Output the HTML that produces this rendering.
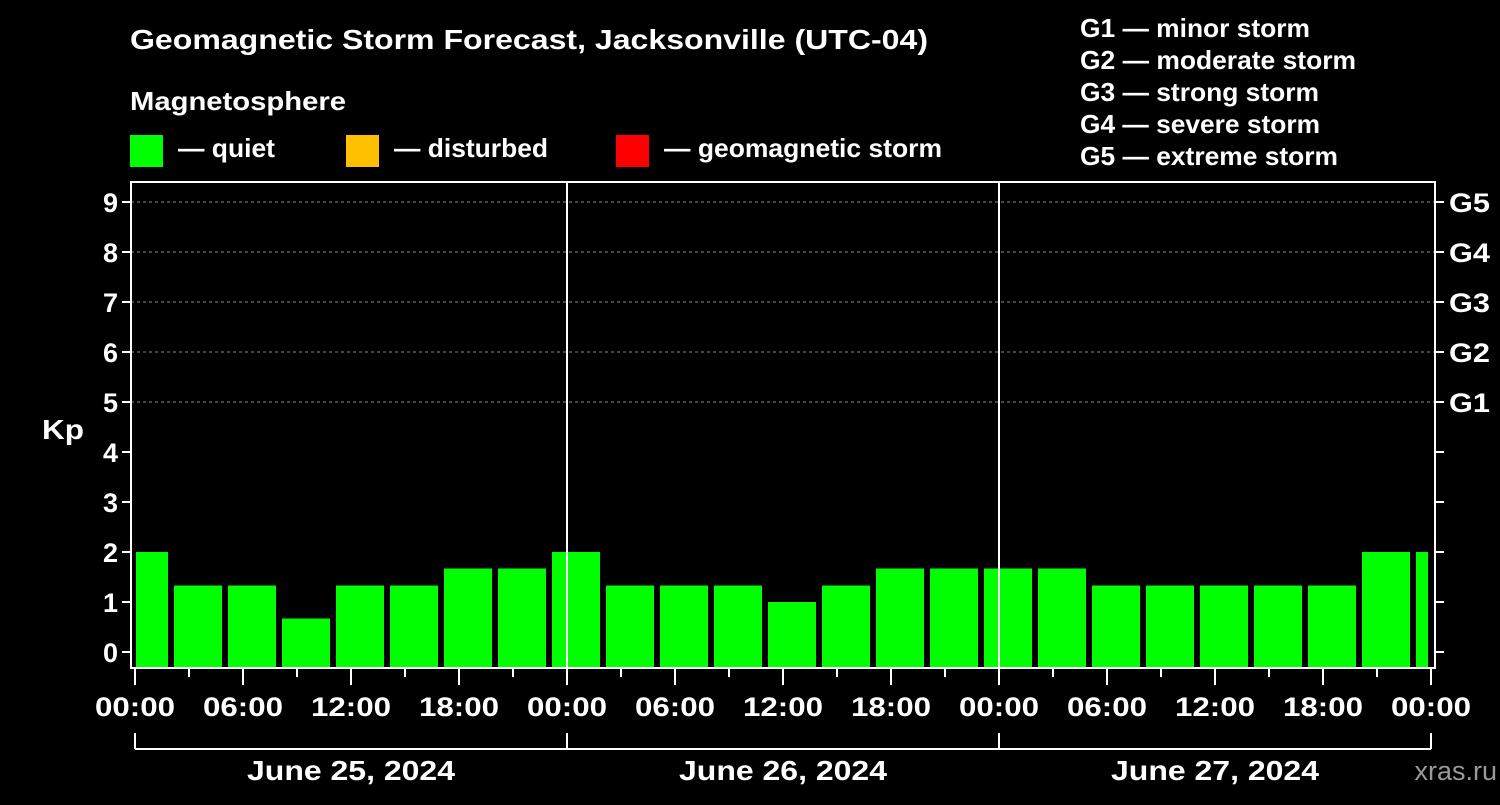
<!DOCTYPE html>
<html><head><meta charset="utf-8"><style>
body{margin:0;background:#000;width:1500px;height:800px;overflow:hidden}
svg text{font-family:"Liberation Sans",Arial,sans-serif;font-weight:bold;fill:#fff}
</style></head><body>
<svg width="1500" height="800" id="c">
<text x="130" y="49" font-size="28" textLength="798" lengthAdjust="spacingAndGlyphs">Geomagnetic Storm Forecast, Jacksonville (UTC-04)</text>
<text x="130" y="110" font-size="26" textLength="216" lengthAdjust="spacingAndGlyphs">Magnetosphere</text>
<g><rect x="130" y="135" width="33" height="32" fill="#00ff00"/><text x="178" y="157" font-size="26" textLength="97" lengthAdjust="spacingAndGlyphs">— quiet</text></g>
<g><rect x="346" y="135" width="33" height="32" fill="#ffc000"/><text x="394" y="157" font-size="26" textLength="154" lengthAdjust="spacingAndGlyphs">— disturbed</text></g>
<g><rect x="616" y="135" width="33" height="32" fill="#ff0000"/><text x="664" y="157" font-size="26" textLength="278" lengthAdjust="spacingAndGlyphs">— geomagnetic storm</text></g>
<g font-size="26">
<text x="1080" y="37" textLength="230" lengthAdjust="spacingAndGlyphs">G1 — minor storm</text><text x="1080" y="69" textLength="276" lengthAdjust="spacingAndGlyphs">G2 — moderate storm</text><text x="1080" y="101" textLength="239" lengthAdjust="spacingAndGlyphs">G3 — strong storm</text><text x="1080" y="133" textLength="240" lengthAdjust="spacingAndGlyphs">G4 — severe storm</text><text x="1080" y="165" textLength="258" lengthAdjust="spacingAndGlyphs">G5 — extreme storm</text></g>
<text x="42" y="439" font-size="28" textLength="42" lengthAdjust="spacingAndGlyphs">Kp</text>
<text x="1497" y="780" font-size="27" text-anchor="end" style="fill:#999;font-weight:normal">xras.ru</text>
<g id="plot"></g>
</svg>
<script>
const kpValues=[2,1.33,1.33,0.67,1.33,1.33,1.67,1.67,2,1.33,1.33,1.33,1,1.33,1.67,1.67,1.67,1.67,1.33,1.33,1.33,1.33,1.33,2,2];
const blockStartHours=[-1,2,5,8,11,14,17,20,23,26,29,32,35,38,41,44,47,50,53,56,59,62,65,68,71];
const dayLabels=["June 25, 2024","June 26, 2024","June 27, 2024"];
const yTicks=[0,1,2,3,4,5,6,7,8,9];
const gLabels=["G1","G2","G3","G4","G5"];
const xTickLabels=["00:00","06:00","12:00","18:00","00:00","06:00","12:00","18:00","00:00","06:00","12:00","18:00","00:00"];
const NS="http://www.w3.org/2000/svg",g=document.getElementById('plot');
const X0=135,HPX=18,L=131,R=1435,T=182,B=668;
const x=h=>X0+h*HPX, y=v=>652-v*50;
function mk(t,a,txt){const e=document.createElementNS(NS,t);for(const k in a)e.setAttribute(k,a[k]);if(txt!=null)e.textContent=txt;g.appendChild(e);return e;}
kpValues.forEach((v,i)=>{const s=Math.max(x(blockStartHours[i])+3,L+5),e=Math.min(x(blockStartHours[i]+3)-3,1428);
const r=mk('rect',{x:s,y:y(v),width:e-s,height:B-y(v),fill:v>=5?'#ff0000':v>=4?'#ffc000':'#00ff00'});

});
[5,6,7,8,9].forEach(v=>{const l=mk('line',{x1:L,x2:R,y1:y(v),y2:y(v),stroke:'#888','stroke-dasharray':'3,3'});

});
[24,48].forEach(h=>{const l=mk('line',{x1:x(h),x2:x(h),y1:T,y2:B,stroke:'#fff','stroke-width':2});

});
const fr=mk('rect',{x:L,y:T,width:R-L,height:B-T,fill:'none',stroke:'#fff','stroke-width':2});


yTicks.forEach(v=>{mk('line',{x1:L-9,x2:L,y1:y(v),y2:y(v),stroke:'#fff','stroke-width':2});mk('line',{x1:R,x2:R+9,y1:y(v),y2:y(v),stroke:'#fff','stroke-width':2});
const t=mk('text',{x:L-13,y:y(v)+10,'font-size':27,'text-anchor':'end'},v);

});
gLabels.forEach((s,i)=>{const t=mk('text',{x:1449,y:y(5+i)+10,'font-size':27,textLength:41,lengthAdjust:'spacingAndGlyphs'},s);

});
for(let h=0;h<=72;h+=3){mk('line',{x1:x(h),x2:x(h),y1:B,y2:h%6?677:685,stroke:'#fff','stroke-width':2});}
xTickLabels.forEach((s,i)=>{const t=mk('text',{x:x(i*6),y:716,'font-size':27,'text-anchor':'middle',textLength:80,lengthAdjust:'spacingAndGlyphs'},s);

});
mk('line',{x1:x(0),x2:x(72),y1:749,y2:749,stroke:'#fff','stroke-width':2});
[0,24,48,72].forEach(h=>mk('line',{x1:x(h),x2:x(h),y1:733,y2:749,stroke:'#fff','stroke-width':2}));
dayLabels.forEach((s,i)=>{const t=mk('text',{x:x(i*24+12),y:780,'font-size':28,'text-anchor':'middle',textLength:208,lengthAdjust:'spacingAndGlyphs'},s);

});
</script>
</body></html>
